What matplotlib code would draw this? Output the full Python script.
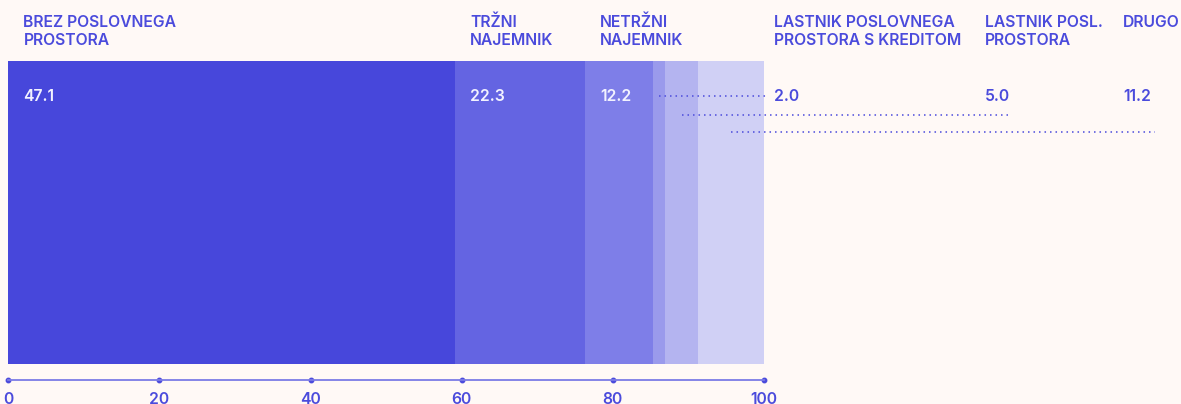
import matplotlib.pyplot as plt

categories = ['BREZ POSLOVNEGA\nPROSTORA', 'TRŽNI\nNAJEMNIK', 'NETRŽNI\nNAJEMNIK',
              'LASTNIK POSLOVNEGA\nPROSTORA S KREDITOM', 'LASTNIK POSL.\nPROSTORA', 'DRUGO']
shares = [47.1, 22.3, 12.2, 2.0, 5.0, 11.2]        # printed values
bar_shares = [59.1, 17.2, 9.0, 1.6, 4.4, 8.7]      # segment widths as drawn in the original
ticks = [0, 20, 40, 60, 80, 100]

colors = ['#4747DB', '#6464E2', '#7E7EE8', '#9A9AEC', '#B4B4F0', '#D0D0F5']
bg = '#FFF9F6'
blue = '#4B4BDC'

# label x for the three small segments (data units), leader line heights (px from top)
outside_x = [101.3, 129.2, 147.5]
leader_y = [96, 115, 132]
leader_end = [100.3, 132.3, 151.7]

W, H = 1181, 404
plt.rcParams['font.family'] = ['Inter', 'DejaVu Sans']
fig = plt.figure(figsize=(W / 100, H / 100), dpi=100, facecolor=bg)
x0, x1, top, bot = 8.3, 764, 61, 364
ax = fig.add_axes([x0 / W, (H - bot) / H, (x1 - x0) / W, (bot - top) / H])
ax.set_facecolor(bg)

def fy(py):
    # pixel row (from top of figure) -> axes fraction
    return (bot - py) / (bot - top)

trans = ax.get_xaxis_transform()

left = 0
starts = []
for w, c in zip(bar_shares, colors):
    ax.barh(0, w, left=left, height=1, color=c, linewidth=0)
    starts.append(left)
    left += w
ax.set_xlim(0, 100)
ax.set_ylim(-0.5, 0.5)

fs = 11.3
fw = 600
line_y = [26.7, 45]

def title(x, name):
    for k, line in enumerate(name.split('\n')):
        ax.text(x, fy(line_y[k]), line, transform=trans, ha='left', va='baseline',
                fontsize=fs, fontweight=fw, color=blue, clip_on=False)

for i in range(3):
    x = starts[i] + 2.0
    title(x, categories[i])
    ax.text(x, fy(101), f'{shares[i]:.1f}', transform=trans, ha='left', va='baseline',
            fontsize=fs, fontweight=fw, color='#F2F2FF')

for j, i in enumerate(range(3, 6)):
    x = outside_x[j]
    title(x, categories[i])
    ax.text(x, fy(101), f'{shares[i]:.1f}', transform=trans, ha='left', va='baseline',
            fontsize=fs, fontweight=fw, color=blue, clip_on=False)
    mid = starts[i] + bar_shares[i] / 2
    ax.plot([mid, leader_end[j]], [fy(leader_y[j])] * 2, transform=trans, color=blue,
            lw=1.1, linestyle=(0, (1, 2.6)), clip_on=False)

for s in ['top', 'right', 'left']:
    ax.spines[s].set_visible(False)
ax.spines['bottom'].set_position(('outward', 11.5))
ax.spines['bottom'].set_color('#7B7BE6')
ax.spines['bottom'].set_linewidth(1.3)
ax.set_yticks([])
ax.set_xticks(ticks)
ax.tick_params(axis='x', length=0, pad=8.5, labelsize=fs, labelcolor=blue)
for lab in ax.get_xticklabels():
    lab.set_fontweight(fw)
ax.plot(ticks, [fy(380)] * len(ticks), 'o', ms=3.2, color=blue, transform=trans, clip_on=False)

fig.savefig('out.png', dpi=100, facecolor=bg)
